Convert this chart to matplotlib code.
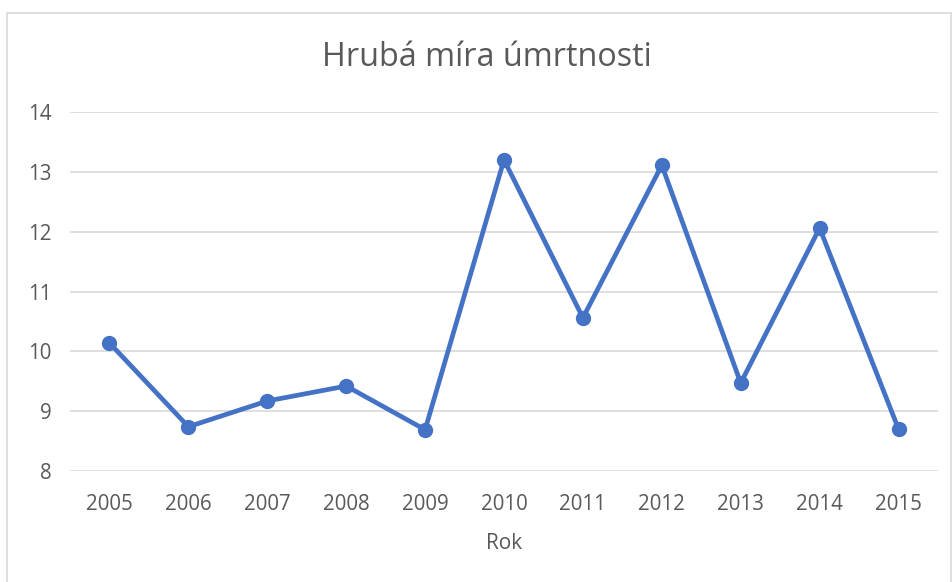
import matplotlib
matplotlib.use("Agg")
import matplotlib.pyplot as plt
from matplotlib.patches import Rectangle

years = ["2005", "2006", "2007", "2008", "2009", "2010", "2011", "2012", "2013", "2014", "2015"]
values = [10.14, 8.74, 9.17, 9.42, 8.69, 13.2, 10.56, 13.11, 9.47, 12.06, 8.70]
yticks = [8, 9, 10, 11, 12, 13, 14]

W, H = 953, 582
fig = plt.figure(figsize=(W / 100, H / 100), dpi=100)
plt.rcParams['font.family'] = ['Open Sans', 'DejaVu Sans']
txt = '#595959'

# chart border
fig.patches.append(Rectangle((7 / W, -0.1), (951 - 7) / W, 1.1 - 13 / H,
                             transform=fig.transFigure, fill=False,
                             edgecolor='#d9d9d9', linewidth=1.2))

ax = fig.add_axes([70 / W, 1 - 471 / H, (938 - 70) / W, (471 - 112) / H])
x = list(range(len(years)))
ax.plot(x, values, color='#4472C4', linewidth=3.4, marker='o', markersize=10,
        solid_capstyle='round', solid_joinstyle='round', zorder=3)
ax.set_xlim(-0.5, len(years) - 0.5)
ax.set_ylim(8, 14)
ax.set_yticks(yticks)
ax.set_xticks(x)
ax.set_xticklabels(years)
ax.grid(axis='y', color='#d9d9d9', linewidth=1.2)
ax.grid(axis='x', visible=False)
for s in ax.spines.values():
    s.set_visible(False)
ax.tick_params(axis='both', length=0, labelsize=14.8, colors=txt)
ax.tick_params(axis='x', pad=16.5)
ax.tick_params(axis='y', pad=13)
ax.set_xlabel('Rok', fontsize=15, color=txt, labelpad=13)
fig.text(487 / W, 1 - 58 / H, 'Hrubá míra úmrtnosti', ha='center', va='center',
         fontsize=23.3, color=txt)
fig.savefig('out.png', dpi=100)
